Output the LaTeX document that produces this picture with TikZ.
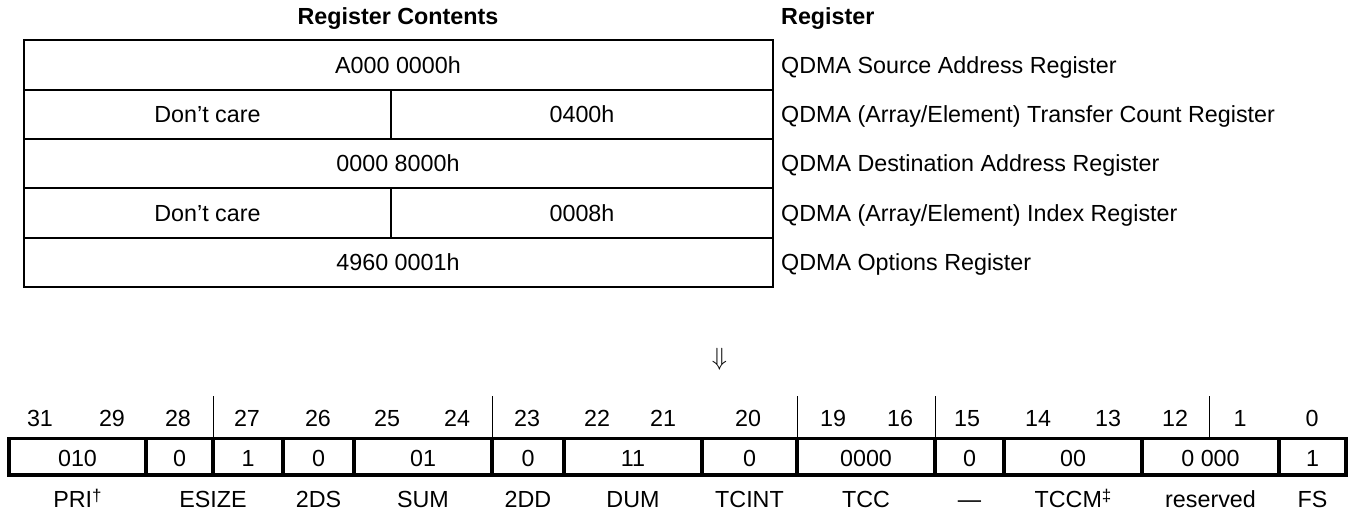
\documentclass[tikz,border=0pt]{standalone}
\usepackage{fontspec}
\setmainfont{Liberation Sans}
% small raised reference marks after field names
\newcommand{\refmark}[1]{\raisebox{6pt}{\fontsize{17}{20}\selectfont #1}}
\begin{document}
\begin{tikzpicture}[x=1pt,y=-1pt,
  txt/.style={inner sep=0pt, font=\fontsize{23.3}{28}\selectfont, anchor=base},
  hdr/.style={txt, font=\fontsize{23.3}{28}\selectfont\bfseries},
  lft/.style={txt, anchor=base west},
  tbl/.style={line width=2pt, line cap=rect},
  fld/.style={line width=3.5pt, line cap=rect},
  tick/.style={line width=1pt}]
\useasboundingbox (0,0) rectangle (1355,512);

% ---- register contents table ----
\draw[tbl] (24,40) rectangle (773,287);
\foreach \y in {89.5,138.5,188,237.5} \draw[tbl] (24,\y) -- (773,\y);
\draw[tbl] (391,89.5) -- (391,138.5);
\draw[tbl] (391,188) -- (391,237.5);

\node[hdr] (hcont) at (398,24.5) {Register Contents};
\node[hdr, anchor=base west] (hreg) at (781,24.5) {Register};

\node[txt] (c1) at (398,73) {A000 0000h};
\node[txt] (c2a) at (207.5,122.3) {Don’t care};
\node[txt] (c2b) at (582,122.3) {0400h};
\node[txt] (c3) at (398,171.5) {0000 8000h};
\node[txt] (c4a) at (207.5,221) {Don’t care};
\node[txt] (c4b) at (582,221) {0008h};
\node[txt] (c5) at (398,270.5) {4960 0001h};

\node[lft] (r1) at (781,73) {QDMA Source Address Register};
\node[lft] (r2) at (781,122.3) {QDMA (Array/Element) Transfer Count Register};
\node[lft] (r3) at (781,171.5) {QDMA Destination Address Register};
\node[lft] (r4) at (781,221) {QDMA (Array/Element) Index Register};
\node[lft] (r5) at (781,270.5) {QDMA Options Register};

% ---- mapping arrow ----
\node[inner sep=0pt, font=\fontsize{24}{28}\selectfont] (down) at (719.5,359) {$\Downarrow$};

% ---- options register bit field ----
\foreach \x in {213,492,797,935,1209} \draw[tick] (\x,396) -- (\x,438.5);
\draw[fld] (9,438.5) rectangle (1346,475);
\foreach \x in {146,213,283,354,492,564,702,797,935,1004,1142,1279}
  \draw[fld] (\x,438.5) -- (\x,475);

% bit numbers
\foreach \n/\x in {31/40,29/112,28/178,27/247,26/318,25/387,24/457,23/527,22/597,21/663,20/748,19/833,16/900,15/967,14/1038,13/1108,12/1175,1/1240,0/1312}
  \node[txt] (b\n) at (\x,426) {\n};

% field values
\foreach \i/\v/\x in {1/010/77.5,2/0/179.5,3/1/248,4/0/318.5,5/01/423,6/0/528,7/11/633,8/0/749.5,9/0000/866,10/0/969.5,11/00/1073,12/0 000/1210.5,13/1/1312.5}
  \node[txt] (v\i) at (\x,466) {\v};

% field names
\node[txt] (fpri) at (77.5,507) {PRI\refmark{†}};
\node[txt] (fesize) at (213,507) {ESIZE};
\node[txt] (f2ds) at (318.5,507) {2DS};
\node[txt] (fsum) at (423,507) {SUM};
\node[txt] (f2dd) at (528,507) {2DD};
\node[txt] (fdum) at (633,507) {DUM};
\node[txt] (ftcint) at (749.5,507) {TCINT};
\node[txt] (ftcc) at (866,507) {TCC};
\node[txt] (fres15) at (969.5,507) {—};
\node[txt] (ftccm) at (1073,507) {TCCM\refmark{‡}};
\node[txt] (fres) at (1210.5,507) {reserved};
\node[txt] (ffs) at (1312.5,507) {FS};
\end{tikzpicture}
\end{document}
